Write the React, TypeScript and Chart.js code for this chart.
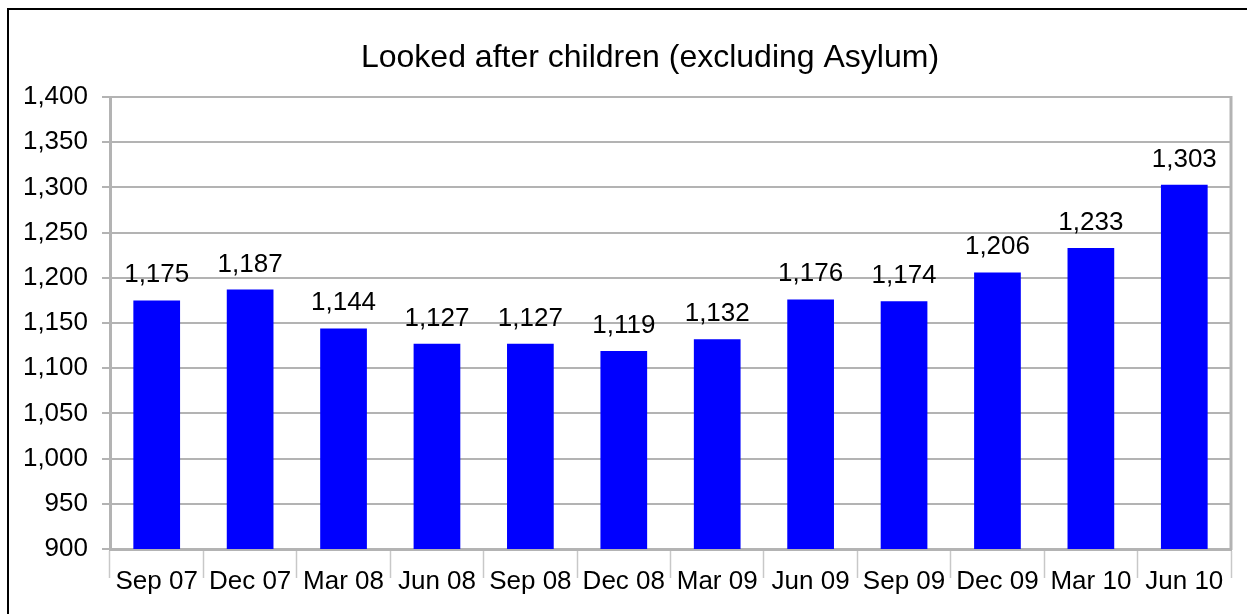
import React, { useEffect, useRef } from 'react';
import { Chart, registerables } from 'chart.js';

Chart.register(...registerables);

const title = 'Looked after children (excluding Asylum)';
const categories = ['Sep 07', 'Dec 07', 'Mar 08', 'Jun 08', 'Sep 08', 'Dec 08', 'Mar 09', 'Jun 09', 'Sep 09', 'Dec 09', 'Mar 10', 'Jun 10'];
const values = [1175, 1187, 1144, 1127, 1127, 1119, 1132, 1176, 1174, 1206, 1233, 1303];
const yMin = 900;
const yMax = 1400;
const yStep = 50;

const FONT = '"Liberation Sans", Arial, sans-serif';
const GRID = '#b3b3b3';

const fmt = (v: number) => Number(v).toLocaleString('en-US');

const extras = {
  id: 'extras',
  afterDraw(chart: any) {
    const { ctx, chartArea } = chart;
    ctx.save();
    ctx.strokeStyle = GRID;
    ctx.lineWidth = 3;
    ctx.beginPath();
    ctx.moveTo(chartArea.right, chartArea.top - 1);
    ctx.lineTo(chartArea.right, chartArea.bottom + 1);
    ctx.stroke();

    ctx.fillStyle = '#000';
    ctx.textAlign = 'center';
    ctx.textBaseline = 'alphabetic';
    ctx.font = `32px ${FONT}`;
    ctx.fillText(title, 650, 67);

    ctx.font = `26px ${FONT}`;
    const meta = chart.getDatasetMeta(0);
    meta.data.forEach((bar: any, i: number) => {
      ctx.fillText(fmt(values[i]), bar.x, bar.y - 18);
    });
    ctx.restore();
  },
};

export default function App() {
  const ref = useRef<HTMLCanvasElement>(null);
  useEffect(() => {
    if (!ref.current) return;
    const chart = new Chart(ref.current, {
      type: 'bar',
      data: {
        labels: categories,
        datasets: [
          {
            data: values,
            backgroundColor: '#0000ff',
            borderWidth: 0,
            barPercentage: 0.5,
            categoryPercentage: 1.0,
          },
        ],
      },
      options: {
        responsive: false,
        animation: false,
        layout: { padding: { top: 97, right: 16, bottom: 0, left: 0 } },
        plugins: {
          legend: { display: false },
          title: { display: false },
          tooltip: { enabled: false },
        },
        scales: {
          x: {
            offset: true,
            grid: {
              display: true,
              offset: true,
              drawOnChartArea: false,
              drawTicks: true,
              tickLength: 29,
              tickColor: '#c8c8c8',
              tickWidth: 1.5,
              color: '#c8c8c8',
            },
            border: { display: true, color: GRID, width: 3 },
            ticks: {
              font: { size: 26, family: FONT },
              color: '#000',
              padding: -12,
              maxRotation: 0,
              autoSkip: false,
            },
            afterFit: (s: any) => {
              s.height = 65;
            },
          },
          y: {
            min: yMin,
            max: yMax,
            ticks: {
              stepSize: yStep,
              font: { size: 26, family: FONT },
              color: '#000',
              padding: 14,
              callback: (v: any) => fmt(v),
            },
            grid: { color: GRID, lineWidth: 2, tickLength: 8, tickColor: GRID },
            border: { color: GRID, width: 3 },
            afterFit: (s: any) => {
              s.width = 110;
            },
          },
        },
      },
      plugins: [extras],
    });
    return () => chart.destroy();
  }, []);

  return (
    <div style={{ position: 'fixed', left: 0, top: 0, width: 1247, height: 614, overflow: 'hidden', background: '#fff' }}>
      <canvas ref={ref} width={1247} height={614} style={{ display: 'block', position: 'absolute', left: 0, top: 0 }} />
      <div
        style={{
          position: 'absolute',
          left: 7,
          top: 8,
          width: 1400,
          height: 800,
          border: '2px solid #000',
          pointerEvents: 'none',
        }}
      />
    </div>
  );
}
